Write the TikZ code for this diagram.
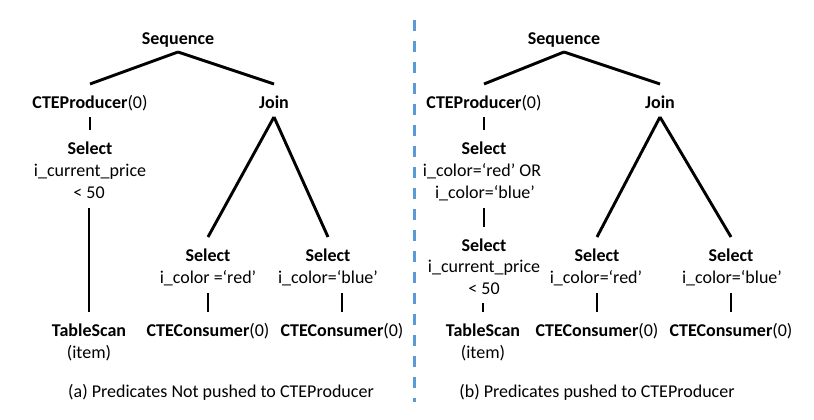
\documentclass[tikz,border=0pt]{standalone}
\usepackage{fontspec}
\setmainfont{Carlito}
\definecolor{dashblue}{RGB}{91,155,213}
\begin{document}
\begin{tikzpicture}[x=1pt,y=-1pt,
  lbl/.style={inner sep=0pt, outer sep=0pt, anchor=base, text height=12pt, text depth=4pt, font=\fontsize{18}{22}\selectfont},
  bl/.style={lbl, font=\fontsize{18}{22}\selectfont\bfseries},
  conn/.style={line width=2.9pt, line cap=butt}]
\useasboundingbox (0,0) rectangle (814,420);
% ---------- left panel ----------
\node[bl]  (seqL)   at (178,45)  {Sequence};
\node[lbl] (prodL)  at (90,108)  {\textbf{CTEProducer}(0)};
\node[bl]  (joinL)  at (274,108) {Join};
\node[bl]  (selL)   at (90,154)  {Select};
\node[lbl] (selLb)  at (90,176)  {i\_current\_price};
\node[lbl] (selLc)  at (89,198)  {< 50};
\node[bl]  (tsL)    at (89,336)  {TableScan};
\node[lbl] (tsLb)   at (89,358)  {(item)};
\node[bl]  (selRa)  at (208,261) {Select};
\node[lbl] (selRab) at (208,283) {i\_color =‘red’};
\node[lbl] (consA)  at (208,336) {\textbf{CTEConsumer}(0)};
\node[bl]  (selBa)  at (328,261) {Select};
\node[lbl] (selBab) at (328,283) {i\_color=‘blue’};
\node[lbl] (consB)  at (342,336) {\textbf{CTEConsumer}(0)};
\node[lbl] (capA)   at (221,397) {(a) Predicates Not pushed to CTEProducer};
\draw[conn] ([yshift=-3pt]seqL.south) -- ([yshift=12pt]prodL.north);
\draw[conn] ([yshift=-3pt]seqL.south) -- ([yshift=12pt]joinL.north);
\draw[conn] ([yshift=-5pt]prodL.south) -- ([yshift=12pt]selL.north);
\draw[conn] ([yshift=-6pt]selLc.south -| tsL.north) -- ([yshift=12pt]tsL.north);
\draw[conn] ([yshift=-5pt]joinL.south) -- ([yshift=12pt]selRa.north);
\draw[conn] ([yshift=-5pt]joinL.south) -- ([yshift=12pt]selBa.north);
\draw[conn] ([yshift=-6pt]selRab.south -| consA.north) -- ([yshift=12pt]consA.north);
\draw[conn] ([yshift=-6pt]selBab.south -| consB.north) -- ([yshift=12pt]consB.north);
% ---------- divider ----------
\coordinate (divTop) at (414,20);
\coordinate (divBot) at (414,402);
\draw[dashblue, line width=3pt, dash pattern=on 11pt off 10pt] (divTop) -- (divBot);
% ---------- right panel ----------
\node[bl]  (seqR)   at (564,45)  {Sequence};
\node[lbl] (prodR)  at (484,108) {\textbf{CTEProducer}(0)};
\node[bl]  (joinR)  at (660,108) {Join};
\node[bl]  (selR1)  at (484,154) {Select};
\node[lbl] (selR1b) at (482,176) {i\_color=‘red’ OR};
\node[lbl] (selR1c) at (485,198) {i\_color=‘blue’};
\node[bl]  (selR2)  at (484,251) {Select};
\node[lbl] (selR2b) at (484,272) {i\_current\_price};
\node[lbl] (selR2c) at (484,294) {< 50};
\node[bl]  (tsR)    at (483,336) {TableScan};
\node[lbl] (tsRb)   at (483,358) {(item)};
\node[bl]  (selRr)  at (597,261) {Select};
\node[lbl] (selRrb) at (596,283) {i\_color=‘red’};
\node[lbl] (consRr) at (597,336) {\textbf{CTEConsumer}(0)};
\node[bl]  (selRb)  at (731,261) {Select};
\node[lbl] (selRbb) at (732,283) {i\_color=‘blue’};
\node[lbl] (consRb) at (731,336) {\textbf{CTEConsumer}(0)};
\node[lbl] (capB)   at (597,397) {(b) Predicates pushed to CTEProducer};
\draw[conn] ([yshift=-3pt]seqR.south) -- ([yshift=12pt]prodR.north);
\draw[conn] ([yshift=-3pt]seqR.south) -- ([yshift=12pt]joinR.north);
\draw[conn] ([yshift=-5pt]prodR.south) -- ([yshift=12pt]selR1.north);
\draw[conn] ([yshift=-6pt]selR1c.south -| selR2.north) -- ([yshift=12pt]selR2.north);
\draw[conn] ([yshift=-5pt]selR2c.south -| tsR.north) -- ([yshift=12pt]tsR.north);
\draw[conn] ([yshift=-5pt]joinR.south) -- ([yshift=12pt]selRr.north);
\draw[conn] ([yshift=-5pt]joinR.south) -- ([yshift=12pt]selRb.north);
\draw[conn] ([yshift=-6pt]selRrb.south -| consRr.north) -- ([yshift=12pt]consRr.north);
\draw[conn] ([yshift=-6pt]selRbb.south -| consRb.north) -- ([yshift=12pt]consRb.north);
\end{tikzpicture}
\end{document}
